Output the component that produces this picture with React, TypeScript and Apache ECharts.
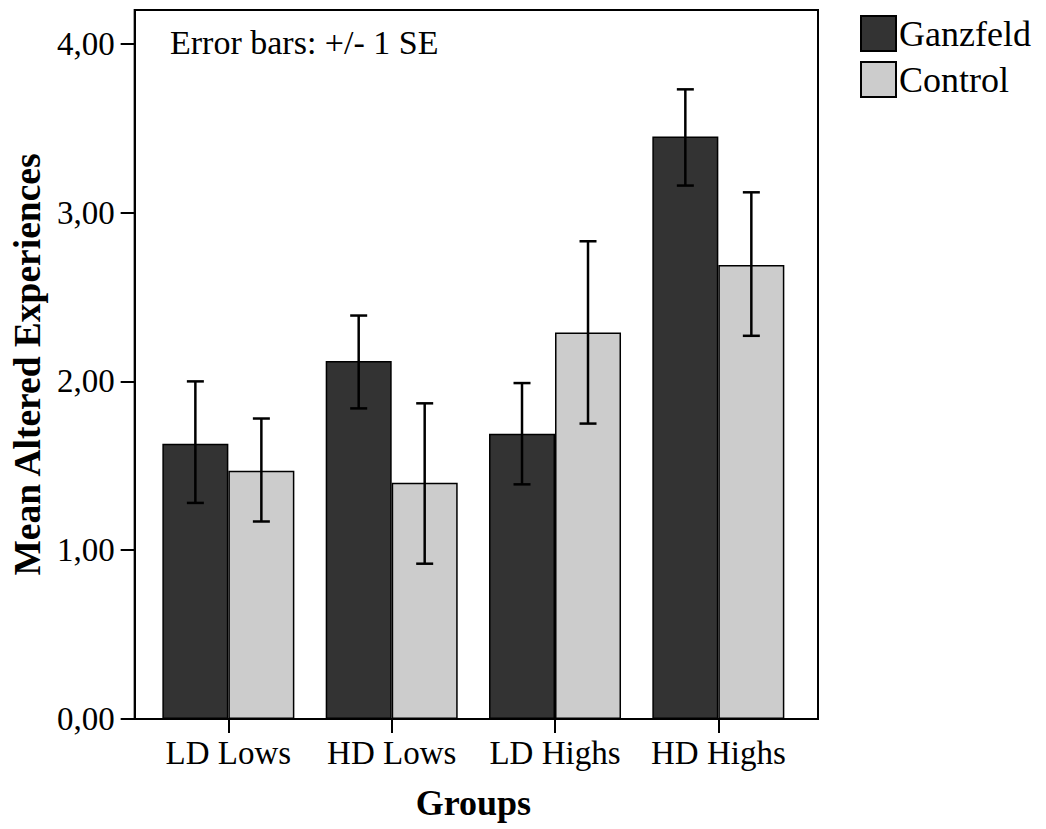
import React, { useEffect, useRef } from 'react';
import * as echarts from 'echarts';

const categories = ['LD Lows', 'HD Lows', 'LD Highs', 'HD Highs'];
const seriesNames = ['Ganzfeld', 'Control'];
const ganzfeldMeans = [1.63, 2.12, 1.69, 3.45];
const ganzfeldLow = [1.28, 1.84, 1.39, 3.16];
const ganzfeldHigh = [2.0, 2.39, 1.99, 3.73];
const controlMeans = [1.47, 1.4, 2.29, 2.69];
const controlLow = [1.17, 0.92, 1.75, 2.27];
const controlHigh = [1.78, 1.87, 2.83, 3.12];
const yTicks = [0, 1, 2, 3, 4];

const FONT = "'Liberation Serif', 'Times New Roman', serif";
const BAR_W = 66;
const CAP_W = 17;

export default function App() {
  const ref = useRef<HTMLDivElement>(null);

  useEffect(() => {
    if (!ref.current) return;
    const chart = echarts.init(ref.current, undefined, { renderer: 'svg' });

    const errData: number[][] = [];
    categories.forEach((_, i) => {
      errData.push([i, ganzfeldLow[i], ganzfeldHigh[i], 0]);
      errData.push([i, controlLow[i], controlHigh[i], 1]);
    });

    const option: any = {
      animation: false,
      backgroundColor: '#fff',
      title: {
        text: 'Error bars: +/- 1 SE',
        left: 170,
        top: 25,
        padding: 0,
        textStyle: { fontFamily: FONT, fontSize: 34, fontWeight: 'normal', color: '#000' },
      },
      legend: {
        data: seriesNames,
        orient: 'vertical',
        left: 860,
        top: 15,
        padding: 0,
        itemWidth: 35,
        itemHeight: 35,
        itemGap: 9,
        icon: 'rect',
        textStyle: { fontFamily: FONT, fontSize: 36, color: '#000', padding: [0, 0, 0, -2] },
      },
      grid: [
        { left: 128, top: 10, width: 690, height: 709, show: true, borderColor: '#000', borderWidth: 2, backgroundColor: 'transparent' },
        { left: 146.7, top: 10, width: 653.3, height: 709 },
      ],
      xAxis: [
        { gridIndex: 0, type: 'value', min: 0, max: 1, show: false },
        {
          gridIndex: 1,
          type: 'category',
          data: categories,
          name: 'Groups',
          nameLocation: 'middle',
          nameGap: 66,
          nameTextStyle: { fontFamily: FONT, fontSize: 36, fontWeight: 'bold', color: '#000' },
          axisLine: { show: false },
          axisTick: { show: true, alignWithLabel: true, interval: 0, length: 14, lineStyle: { color: '#000', width: 2 } },
          axisLabel: { fontFamily: FONT, fontSize: 33, color: '#000', margin: 17, interval: 0, hideOverlap: false },
        },
      ],
      yAxis: [
        {
          gridIndex: 0,
          type: 'value',
          min: 0,
          max: 4.2,
          interval: 1,
          name: 'Mean Altered Experiences',
          nameLocation: 'middle',
          nameGap: 80,
          nameTextStyle: { fontFamily: FONT, fontSize: 37.5, fontWeight: 'bold', color: '#000' },
          axisLine: { show: true, lineStyle: { color: '#000', width: 2 } },
          axisTick: { show: true, length: 14, customValues: yTicks, lineStyle: { color: '#000', width: 2 } },
          axisLabel: {
            customValues: yTicks,
            fontFamily: FONT,
            fontSize: 33,
            color: '#000',
            margin: 20,
            formatter: (v: number) => v.toFixed(2).replace('.', ','),
          },
          splitLine: { show: false },
        },
        { gridIndex: 1, type: 'value', min: 0, max: 4.2, show: false, splitLine: { show: false } },
      ],
      series: [
        {
          name: seriesNames[0],
          type: 'bar',
          xAxisIndex: 1,
          yAxisIndex: 1,
          data: ganzfeldMeans,
          barWidth: BAR_W,
          barGap: '0%',
          itemStyle: { color: '#333333', borderColor: '#000', borderWidth: 1.5 },
        },
        {
          name: seriesNames[1],
          type: 'bar',
          xAxisIndex: 1,
          yAxisIndex: 1,
          data: controlMeans,
          barWidth: BAR_W,
          barGap: '0%',
          itemStyle: { color: '#cccccc', borderColor: '#000', borderWidth: 1.5 },
        },
        {
          type: 'custom',
          xAxisIndex: 1,
          yAxisIndex: 1,
          z: 10,
          data: errData,
          encode: { x: 0, y: [1, 2] },
          renderItem: (params: any, api: any) => {
            const cat = api.value(0);
            const lo = api.value(1);
            const hi = api.value(2);
            const s = api.value(3);
            const pLo = api.coord([cat, lo]);
            const pHi = api.coord([cat, hi]);
            const x = pLo[0] + (s === 0 ? -BAR_W / 2 : BAR_W / 2);
            const style = { stroke: '#000', lineWidth: 2.5 };
            return {
              type: 'group',
              children: [
                { type: 'line', shape: { x1: x, y1: pLo[1], x2: x, y2: pHi[1] }, style },
                { type: 'line', shape: { x1: x - CAP_W / 2, y1: pHi[1], x2: x + CAP_W / 2, y2: pHi[1] }, style },
                { type: 'line', shape: { x1: x - CAP_W / 2, y1: pLo[1], x2: x + CAP_W / 2, y2: pLo[1] }, style },
              ],
            };
          },
        },
      ],
    };

    chart.setOption(option);
    return () => chart.dispose();
  }, []);

  return <div ref={ref} style={{ position: 'fixed', left: 0, top: 0, width: 1046, height: 829 }} />;
}
